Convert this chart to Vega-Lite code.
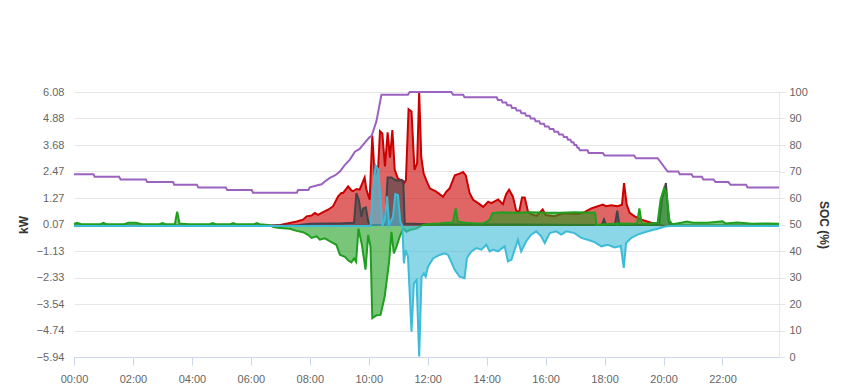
{
  "$schema": "https://vega.github.io/schema/vega-lite/v6.json",
  "width": 705,
  "height": 265,
  "autosize": {"type": "none"},
  "padding": {"left": 74, "top": 92, "right": 70, "bottom": 33},
  "background": "#ffffff",
  "config": {
    "view": {"stroke": null},
    "font": "Liberation Sans",
    "axis": {"labelFont": "Liberation Sans", "titleFont": "Liberation Sans", "labelColor": "#666666", "labelFontSize": 11}
  },
  "datasets": {
    "solar": [
      {"h": 0, "v": 0}, {"h": 6.6, "v": 0}, {"h": 6.8, "v": 0.03}, {"h": 7.0, "v": 0.05}, {"h": 7.32, "v": 0.14},
      {"h": 7.55, "v": 0.21}, {"h": 7.77, "v": 0.29}, {"h": 7.89, "v": 0.44}, {"h": 8.06, "v": 0.48}, {"h": 8.17, "v": 0.59},
      {"h": 8.28, "v": 0.51}, {"h": 8.45, "v": 0.63}, {"h": 8.62, "v": 0.74}, {"h": 8.79, "v": 0.9}, {"h": 8.96, "v": 1.35},
      {"h": 9.07, "v": 1.5}, {"h": 9.13, "v": 1.5}, {"h": 9.3, "v": 1.8}, {"h": 9.41, "v": 1.62}, {"h": 9.47, "v": 1.58},
      {"h": 9.58, "v": 1.68}, {"h": 9.69, "v": 1.65}, {"h": 9.75, "v": 1.85}, {"h": 9.86, "v": 2.2}, {"h": 9.92, "v": 1.65},
      {"h": 10.03, "v": 1.2}, {"h": 10.12, "v": 4.1}, {"h": 10.2, "v": 2.3}, {"h": 10.32, "v": 2.7}, {"h": 10.38, "v": 4.3},
      {"h": 10.46, "v": 4.2}, {"h": 10.55, "v": 2.7}, {"h": 10.64, "v": 4.25}, {"h": 10.72, "v": 3.1}, {"h": 10.8, "v": 4.35},
      {"h": 10.88, "v": 2.55}, {"h": 10.99, "v": 2.15}, {"h": 11.11, "v": 2.08}, {"h": 11.19, "v": 1.93}, {"h": 11.26, "v": 2.08},
      {"h": 11.35, "v": 5.3}, {"h": 11.45, "v": 5.2}, {"h": 11.55, "v": 2.55}, {"h": 11.64, "v": 2.85}, {"h": 11.71, "v": 6.08},
      {"h": 11.78, "v": 3.14}, {"h": 11.86, "v": 2.39}, {"h": 11.95, "v": 2.08}, {"h": 12.07, "v": 1.71}, {"h": 12.29, "v": 1.56},
      {"h": 12.52, "v": 1.33}, {"h": 12.63, "v": 1.56}, {"h": 12.74, "v": 1.7}, {"h": 12.92, "v": 2.3}, {"h": 13.08, "v": 2.38},
      {"h": 13.2, "v": 2.45}, {"h": 13.29, "v": 2.3}, {"h": 13.42, "v": 1.5}, {"h": 13.54, "v": 1.19}, {"h": 13.71, "v": 1.04},
      {"h": 13.88, "v": 0.87}, {"h": 14.05, "v": 1.1}, {"h": 14.16, "v": 1.04}, {"h": 14.27, "v": 1.12}, {"h": 14.39, "v": 1.2},
      {"h": 14.55, "v": 0.99}, {"h": 14.66, "v": 1.45}, {"h": 14.76, "v": 1.65}, {"h": 14.89, "v": 1.34}, {"h": 15.0, "v": 0.7},
      {"h": 15.1, "v": 0.63}, {"h": 15.2, "v": 1.3}, {"h": 15.29, "v": 1.3}, {"h": 15.4, "v": 0.66}, {"h": 15.51, "v": 0.54},
      {"h": 15.69, "v": 0.46}, {"h": 15.9, "v": 0.75}, {"h": 16.0, "v": 0.5}, {"h": 16.3, "v": 0.45}, {"h": 16.6, "v": 0.58},
      {"h": 17.1, "v": 0.55}, {"h": 17.32, "v": 0.63}, {"h": 17.55, "v": 0.8}, {"h": 17.77, "v": 0.9}, {"h": 17.94, "v": 0.97},
      {"h": 18.05, "v": 0.9}, {"h": 18.22, "v": 0.94}, {"h": 18.45, "v": 0.9}, {"h": 18.59, "v": 0.97}, {"h": 18.66, "v": 1.95},
      {"h": 18.75, "v": 0.97}, {"h": 18.85, "v": 0.6}, {"h": 19.02, "v": 0.44}, {"h": 19.25, "v": 0.29}, {"h": 19.53, "v": 0.17},
      {"h": 19.81, "v": 0.06}, {"h": 20.03, "v": 0}, {"h": 23.917, "v": 0}
    ],
    "grid": [
      {"h": 0, "v": 0.1}, {"h": 0.1, "v": 0.15}, {"h": 0.25, "v": 0.08}, {"h": 0.9, "v": 0.08}, {"h": 1.0, "v": 0.14},
      {"h": 1.1, "v": 0.08}, {"h": 1.7, "v": 0.08}, {"h": 1.85, "v": 0.15}, {"h": 2.1, "v": 0.15}, {"h": 2.3, "v": 0.08},
      {"h": 2.9, "v": 0.08}, {"h": 3.0, "v": 0.13}, {"h": 3.1, "v": 0.08}, {"h": 3.42, "v": 0.08}, {"h": 3.5, "v": 0.65},
      {"h": 3.58, "v": 0.12}, {"h": 3.7, "v": 0.1}, {"h": 3.9, "v": 0.08}, {"h": 4.6, "v": 0.08}, {"h": 4.7, "v": 0.13},
      {"h": 4.8, "v": 0.08}, {"h": 5.3, "v": 0.08}, {"h": 5.4, "v": 0.13}, {"h": 5.5, "v": 0.08}, {"h": 6.1, "v": 0.08},
      {"h": 6.2, "v": 0.13}, {"h": 6.3, "v": 0.08}, {"h": 6.6, "v": 0.05}, {"h": 6.75, "v": -0.03}, {"h": 6.9, "v": -0.08},
      {"h": 7.1, "v": -0.1}, {"h": 7.32, "v": -0.12}, {"h": 7.55, "v": -0.22}, {"h": 7.77, "v": -0.28}, {"h": 7.94, "v": -0.4},
      {"h": 8.06, "v": -0.54}, {"h": 8.23, "v": -0.47}, {"h": 8.34, "v": -0.62}, {"h": 8.51, "v": -0.56}, {"h": 8.73, "v": -0.73},
      {"h": 8.9, "v": -0.85}, {"h": 9.02, "v": -1.3}, {"h": 9.19, "v": -1.4}, {"h": 9.3, "v": -1.55}, {"h": 9.41, "v": -1.65},
      {"h": 9.5, "v": -1.47}, {"h": 9.57, "v": -1.62}, {"h": 9.65, "v": -0.12}, {"h": 9.76, "v": -0.8}, {"h": 9.89, "v": -1.98},
      {"h": 9.98, "v": -0.4}, {"h": 10.06, "v": -0.94}, {"h": 10.12, "v": -4.18}, {"h": 10.26, "v": -4.05}, {"h": 10.4, "v": -4.03},
      {"h": 10.54, "v": -3.2}, {"h": 10.69, "v": -1.62}, {"h": 10.77, "v": -0.26}, {"h": 10.85, "v": -1.24}, {"h": 10.94, "v": -0.94},
      {"h": 11.05, "v": -0.48}, {"h": 11.17, "v": -0.11}, {"h": 11.28, "v": -0.26}, {"h": 11.39, "v": -0.18}, {"h": 11.62, "v": -0.11},
      {"h": 11.73, "v": -0.03}, {"h": 11.84, "v": 0.05}, {"h": 12.07, "v": 0.09}, {"h": 12.4, "v": 0.12}, {"h": 12.6, "v": 0.15},
      {"h": 12.85, "v": 0.15}, {"h": 12.95, "v": 0.8}, {"h": 13.02, "v": 0.2}, {"h": 13.3, "v": 0.15}, {"h": 13.6, "v": 0.12},
      {"h": 13.9, "v": 0.12}, {"h": 14.1, "v": 0.28}, {"h": 14.2, "v": 0.58}, {"h": 14.5, "v": 0.62}, {"h": 15.0, "v": 0.6},
      {"h": 15.5, "v": 0.62}, {"h": 16.0, "v": 0.6}, {"h": 16.5, "v": 0.6}, {"h": 17.0, "v": 0.62}, {"h": 17.68, "v": 0.6},
      {"h": 17.72, "v": 0.05}, {"h": 18.0, "v": 0.08}, {"h": 18.5, "v": 0.12}, {"h": 18.9, "v": 0.1}, {"h": 19.1, "v": 0.12},
      {"h": 19.18, "v": 0.8}, {"h": 19.26, "v": 0.12}, {"h": 19.5, "v": 0.1}, {"h": 19.8, "v": 0.15}, {"h": 19.9, "v": 1.2},
      {"h": 20.02, "v": 1.72}, {"h": 20.1, "v": 1.5}, {"h": 20.2, "v": 0.25}, {"h": 20.3, "v": 0.08}, {"h": 20.6, "v": 0.15},
      {"h": 20.8, "v": 0.2}, {"h": 21.0, "v": 0.15}, {"h": 21.5, "v": 0.15}, {"h": 22.0, "v": 0.22}, {"h": 22.1, "v": 0.12},
      {"h": 22.5, "v": 0.16}, {"h": 23.0, "v": 0.1}, {"h": 23.5, "v": 0.12}, {"h": 23.917, "v": 0.1}
    ],
    "other": [
      {"h": 0, "v": 0.02}, {"h": 7.5, "v": 0.03}, {"h": 8.0, "v": 0.1}, {"h": 8.5, "v": 0.12}, {"h": 9.0, "v": 0.12},
      {"h": 9.5, "v": 0.15}, {"h": 9.58, "v": 1.5}, {"h": 9.67, "v": 1.15}, {"h": 9.75, "v": 0.42}, {"h": 9.81, "v": 0.8},
      {"h": 9.9, "v": 0.85}, {"h": 9.98, "v": 0.2}, {"h": 10.06, "v": 0.05}, {"h": 10.55, "v": 0.05}, {"h": 10.64, "v": 2.2},
      {"h": 10.77, "v": 2.2}, {"h": 10.88, "v": 2.1}, {"h": 10.99, "v": 2.05}, {"h": 11.11, "v": 2.1}, {"h": 11.17, "v": 2.05},
      {"h": 11.22, "v": 0.1}, {"h": 11.5, "v": 0.1}, {"h": 12.0, "v": 0.08}, {"h": 17.9, "v": 0.05}, {"h": 17.98, "v": 0.3},
      {"h": 18.05, "v": 0.05}, {"h": 18.35, "v": 0.05}, {"h": 18.43, "v": 0.7}, {"h": 18.5, "v": 0.05}, {"h": 19.85, "v": 0.05},
      {"h": 19.95, "v": 1.2}, {"h": 20.08, "v": 1.95}, {"h": 20.18, "v": 0.2}, {"h": 20.25, "v": 0.02}, {"h": 23.917, "v": 0.02}
    ],
    "battery": [
      {"h": 0, "v": 0}, {"h": 10.06, "v": 0}, {"h": 10.15, "v": 1.63}, {"h": 10.23, "v": 2.75}, {"h": 10.32, "v": 2.55},
      {"h": 10.4, "v": 1.18}, {"h": 10.46, "v": 0}, {"h": 10.54, "v": 0.27}, {"h": 10.62, "v": 1.35}, {"h": 10.69, "v": 0.05},
      {"h": 10.82, "v": 0.42}, {"h": 10.9, "v": 1.45}, {"h": 10.99, "v": 1.4}, {"h": 11.07, "v": 0.2}, {"h": 11.14, "v": 0},
      {"h": 11.19, "v": -1.69}, {"h": 11.25, "v": -1.09}, {"h": 11.33, "v": -1.39}, {"h": 11.45, "v": -4.79}, {"h": 11.53, "v": -2.6},
      {"h": 11.62, "v": -2.45}, {"h": 11.71, "v": -5.92}, {"h": 11.79, "v": -2.3}, {"h": 11.87, "v": -2.15}, {"h": 11.93, "v": -2.3},
      {"h": 12.01, "v": -1.84}, {"h": 12.18, "v": -1.47}, {"h": 12.4, "v": -1.31}, {"h": 12.58, "v": -1.24}, {"h": 12.69, "v": -1.31},
      {"h": 12.92, "v": -1.99}, {"h": 13.08, "v": -2.3}, {"h": 13.25, "v": -2.37}, {"h": 13.33, "v": -1.45}, {"h": 13.48, "v": -1.15},
      {"h": 13.65, "v": -1.0}, {"h": 13.82, "v": -1.07}, {"h": 13.99, "v": -0.85}, {"h": 14.1, "v": -1.15}, {"h": 14.22, "v": -1.07},
      {"h": 14.38, "v": -1.15}, {"h": 14.61, "v": -0.92}, {"h": 14.72, "v": -1.6}, {"h": 14.84, "v": -1.53}, {"h": 15.06, "v": -0.62},
      {"h": 15.17, "v": -1.15}, {"h": 15.34, "v": -0.69}, {"h": 15.51, "v": -0.39}, {"h": 15.68, "v": -0.24}, {"h": 15.85, "v": -0.47},
      {"h": 15.97, "v": -0.77}, {"h": 16.14, "v": -0.32}, {"h": 16.36, "v": -0.24}, {"h": 16.53, "v": -0.39}, {"h": 16.7, "v": -0.24},
      {"h": 16.98, "v": -0.32}, {"h": 17.21, "v": -0.54}, {"h": 17.43, "v": -0.62}, {"h": 17.66, "v": -0.73}, {"h": 17.89, "v": -0.92},
      {"h": 18.11, "v": -0.85}, {"h": 18.34, "v": -0.97}, {"h": 18.55, "v": -0.9}, {"h": 18.65, "v": -1.9}, {"h": 18.73, "v": -0.77},
      {"h": 18.9, "v": -0.54}, {"h": 19.12, "v": -0.39}, {"h": 19.47, "v": -0.24}, {"h": 19.8, "v": -0.12}, {"h": 20.03, "v": -0.03},
      {"h": 20.2, "v": 0}, {"h": 23.917, "v": 0}
    ],
    "soc": [
      {"h": 0, "s": 69}, {"h": 0.66, "s": 69}, {"h": 0.7, "s": 68}, {"h": 1.53, "s": 68}, {"h": 1.58, "s": 67},
      {"h": 2.44, "s": 67}, {"h": 2.48, "s": 66}, {"h": 3.36, "s": 66}, {"h": 3.4, "s": 65}, {"h": 4.17, "s": 65},
      {"h": 4.22, "s": 64}, {"h": 5.15, "s": 64}, {"h": 5.2, "s": 63}, {"h": 6.03, "s": 63}, {"h": 6.07, "s": 62},
      {"h": 7.56, "s": 62}, {"h": 7.6, "s": 63}, {"h": 7.95, "s": 63}, {"h": 8.0, "s": 64}, {"h": 8.23, "s": 64.7},
      {"h": 8.4, "s": 65.2}, {"h": 8.51, "s": 66.2}, {"h": 8.68, "s": 67.6}, {"h": 8.85, "s": 68.5}, {"h": 9.02, "s": 70},
      {"h": 9.19, "s": 72.5}, {"h": 9.36, "s": 74.5}, {"h": 9.53, "s": 77.5}, {"h": 9.69, "s": 78.5}, {"h": 9.86, "s": 80.8},
      {"h": 10.03, "s": 83}, {"h": 10.1, "s": 83.5}, {"h": 10.26, "s": 89}, {"h": 10.43, "s": 99}, {"h": 11.33, "s": 99},
      {"h": 11.39, "s": 100}, {"h": 12.8, "s": 100}, {"h": 12.86, "s": 99}, {"h": 13.2, "s": 99}, {"h": 13.25, "s": 98},
      {"h": 14.22, "s": 98}, {"h": 14.34, "s": 98}, {"h": 14.38, "s": 97}, {"h": 14.5, "s": 97}, {"h": 14.54, "s": 96},
      {"h": 14.66, "s": 96}, {"h": 14.7, "s": 95}, {"h": 14.82, "s": 95}, {"h": 14.86, "s": 94}, {"h": 14.98, "s": 94},
      {"h": 15.02, "s": 93}, {"h": 15.14, "s": 93}, {"h": 15.18, "s": 92}, {"h": 15.3, "s": 92}, {"h": 15.34, "s": 91},
      {"h": 15.46, "s": 91}, {"h": 15.5, "s": 90}, {"h": 15.62, "s": 90}, {"h": 15.66, "s": 89}, {"h": 15.78, "s": 89},
      {"h": 15.82, "s": 88}, {"h": 15.94, "s": 88}, {"h": 15.98, "s": 87}, {"h": 16.1, "s": 87}, {"h": 16.14, "s": 86},
      {"h": 16.26, "s": 86}, {"h": 16.3, "s": 85}, {"h": 16.42, "s": 85}, {"h": 16.46, "s": 84}, {"h": 16.58, "s": 84},
      {"h": 16.62, "s": 83}, {"h": 16.72, "s": 83}, {"h": 16.76, "s": 82}, {"h": 16.84, "s": 82}, {"h": 16.88, "s": 81},
      {"h": 16.94, "s": 81}, {"h": 16.98, "s": 80}, {"h": 17.04, "s": 80}, {"h": 17.08, "s": 79}, {"h": 17.12, "s": 79},
      {"h": 17.16, "s": 78}, {"h": 17.42, "s": 78}, {"h": 17.46, "s": 77}, {"h": 17.94, "s": 77},
      {"h": 18.0, "s": 76}, {"h": 19.0, "s": 76}, {"h": 19.07, "s": 75}, {"h": 19.8, "s": 75}, {"h": 20.14, "s": 70},
      {"h": 20.5, "s": 70}, {"h": 20.55, "s": 69}, {"h": 20.95, "s": 69}, {"h": 21.0, "s": 68}, {"h": 21.3, "s": 68},
      {"h": 21.35, "s": 67}, {"h": 21.7, "s": 67}, {"h": 21.76, "s": 66}, {"h": 22.2, "s": 66}, {"h": 22.27, "s": 65},
      {"h": 22.8, "s": 65}, {"h": 22.85, "s": 64}, {"h": 23.917, "s": 64}
    ]
  },
  "encoding": {
    "x": {
      "field": "h", "type": "quantitative",
      "scale": {"domain": [0, 23.917], "nice": false, "zero": false},
      "axis": {
        "values": [0, 2, 4, 6, 8, 10, 12, 14, 16, 18, 20, 22],
        "labelExpr": "(datum.value < 10 ? '0' : '') + datum.value + ':00'",
        "grid": false, "title": null, "labelFlush": false,
        "domainColor": "#ccd6eb", "tickColor": "#ccd6eb", "tickSize": 8,
        "labelPadding": 8, "labelFontSize": 11, "labelColor": "#666666"
      }
    }
  },
  "layer": [
    {
      "encoding": {
        "y": {
          "field": "v", "type": "quantitative", "stack": null,
          "scale": {"domain": [-5.94, 6.08], "nice": false, "zero": false},
          "axis": {
            "values": [6.08, 4.878, 3.676, 2.474, 1.272, 0.07, -1.132, -2.334, -3.536, -4.738, -5.94],
            "format": ".2f", "title": "kW", "grid": true, "gridColor": "#e6e6e6",
            "domain": false, "ticks": false, "labelPadding": 10,
            "titleColor": "#333333", "titleFontSize": 12, "titleFontWeight": "bold", "titlePadding": 6
          }
        }
      },
      "layer": [
        {"data": {"name": "solar"}, "mark": {"type": "area", "color": "#cc0000", "fillOpacity": 0.6}},
        {"data": {"name": "solar"}, "mark": {"type": "line", "color": "#cc0000", "strokeWidth": 2}},
        {"data": {"name": "other"}, "mark": {"type": "area", "color": "#434348", "fillOpacity": 0.6}},
        {"data": {"name": "other"}, "mark": {"type": "line", "color": "#434348", "strokeWidth": 2}},
        {"data": {"name": "grid"}, "mark": {"type": "area", "color": "#1f9e1f", "fillOpacity": 0.6}},
        {"data": {"name": "grid"}, "mark": {"type": "line", "color": "#1f9e1f", "strokeWidth": 2}},
        {"data": {"name": "battery"}, "mark": {"type": "area", "color": "#3dbcd8", "fillOpacity": 0.6}},
        {"data": {"name": "battery"}, "mark": {"type": "line", "color": "#3dbcd8", "strokeWidth": 2}}
      ]
    },
    {
      "data": {"name": "soc"},
      "mark": {"type": "line", "color": "#9b62c0", "strokeWidth": 2},
      "encoding": {
        "y": {
          "field": "s", "type": "quantitative",
          "scale": {"domain": [0, 100], "nice": false, "zero": false},
          "axis": {
            "orient": "right", "values": [0, 10, 20, 30, 40, 50, 60, 70, 80, 90, 100],
            "title": "SOC (%)", "grid": false, "domainColor": "#e6e6e6", "tickColor": "#e6e6e6",
            "tickSize": 6, "labelPadding": 4,
            "titleColor": "#333333", "titleFontSize": 12, "titleFontWeight": "bold", "titlePadding": 9
          }
        }
      }
    }
  ],
  "resolve": {"scale": {"y": "independent"}, "axis": {"y": "independent"}}
}
